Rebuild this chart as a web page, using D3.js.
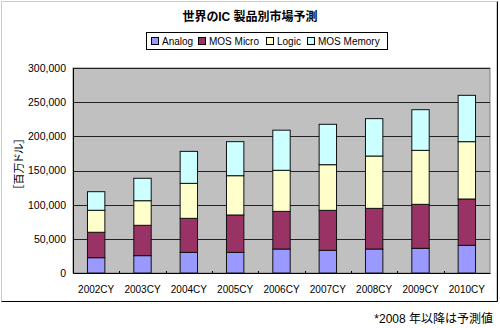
<!DOCTYPE html>
<html>
<head>
<meta charset="utf-8">
<script src="https://cdn.jsdelivr.net/npm/d3@7"></script>
<style>
  html, body { margin: 0; padding: 0; background: #fff; }
  svg { display: block; }
  text { font-family: "Liberation Sans", "Noto Sans CJK JP", sans-serif; fill: #000; font-feature-settings: "palt"; }
</style>
</head>
<body>
<svg id="chart" width="500" height="328"></svg>
<script>
// World IC market by product (million USD), 2008 onward are forecasts
const years = ["2002CY", "2003CY", "2004CY", "2005CY", "2006CY", "2007CY", "2008CY", "2009CY", "2010CY"];
const seriesNames = ["Analog", "MOS Micro", "Logic", "MOS Memory"];
const analog    = [22400, 25400, 30200, 30200, 35100, 33200, 35100, 36100, 40500];
const mosMicro  = [37200, 44400, 49800, 54700, 55100, 58500, 59500, 64400, 67800];
const logic     = [32200, 36000, 51200, 57500, 60100, 66800, 76600, 79000, 83900];
const mosMemory = [27200, 32800, 46800, 49800, 58700, 59100, 54700, 59500, 67800];
const yTicks = [0, 50000, 100000, 150000, 200000, 250000, 300000];
const colors = ["#9999FF", "#993366", "#FFFFCC", "#CCFFFF"];

const svg = d3.select("#chart");

// outer chart frame with shadow edge
svg.append("rect").attr("x", 1.5).attr("y", 1.5).attr("width", 495).attr("height", 300)
  .attr("fill", "#fff").attr("stroke", "#999").attr("stroke-dasharray", "1,1");
svg.append("path").attr("d", "M497.5,1.5V301.5H1.5").attr("fill", "none").attr("stroke", "#000");

const plot = { left: 73, right: 490, top: 68, bottom: 273 };

const x = d3.scaleBand().domain(years).range([plot.left, plot.right]).padding(0);
const y = d3.scaleLinear().domain([0, 300000]).range([plot.bottom, plot.top]);

// plot background
svg.append("rect").attr("x", plot.left).attr("y", plot.top)
  .attr("width", plot.right - plot.left).attr("height", plot.bottom - plot.top)
  .attr("fill", "#C0C0C0").attr("stroke", "#808080");

// horizontal gridlines
svg.append("g").selectAll("line").data(yTicks.filter(d => d > 0)).join("line")
  .attr("x1", plot.left).attr("x2", plot.right)
  .attr("y1", d => Math.round(y(d)) + 0.5).attr("y2", d => Math.round(y(d)) + 0.5)
  .attr("stroke", "#222");

// stacked bars
const rows = years.map((yr, i) => ({ year: yr, Analog: analog[i], "MOS Micro": mosMicro[i], Logic: logic[i], "MOS Memory": mosMemory[i] }));
const stack = d3.stack().keys(seriesNames)(rows);
const barW = x.bandwidth() * 0.375;

svg.append("g").selectAll("g").data(stack).join("g")
  .attr("fill", (d, i) => colors[i])
  .selectAll("rect").data(d => d).join("rect")
  .attr("x", d => x(d.data.year) + (x.bandwidth() - barW) / 2)
  .attr("y", d => y(d[1]))
  .attr("width", barW)
  .attr("height", d => y(d[0]) - y(d[1]))
  .attr("stroke", "#111").attr("stroke-width", 1);

// axes
const yAxis = d3.axisLeft(y).tickValues(yTicks).tickSize(0).tickPadding(7)
  .tickFormat(d3.format(","));
const gy = svg.append("g").attr("transform", `translate(${plot.left},0)`).call(yAxis);
gy.select(".domain").attr("stroke", "#000");
gy.selectAll("text").attr("font-size", 10.5).attr("font-family", null);

const xAxis = d3.axisBottom(x).tickSize(0).tickPadding(13);
const gx = svg.append("g").attr("transform", `translate(0,${plot.bottom})`).call(xAxis);
gx.select(".domain").attr("stroke", "#000");
gx.selectAll("text").attr("font-size", 10).attr("font-family", null);

// small tick marks between categories
svg.append("g").selectAll("line").data(years.slice(1)).join("line")
  .attr("x1", d => Math.round(x(d)) + 0.5).attr("x2", d => Math.round(x(d)) + 0.5)
  .attr("y1", plot.bottom).attr("y2", plot.bottom - 2)
  .attr("stroke", "#000");

// y-axis title
svg.append("text").attr("transform", "translate(23,164) rotate(-90)")
  .attr("text-anchor", "middle").attr("font-size", 11).text("［百万ドル］");

// chart title
svg.append("text").attr("x", 250).attr("y", 21).attr("text-anchor", "middle")
  .attr("font-size", 12).attr("font-weight", "bold").text("世界のIC 製品別市場予測");

// legend
const legend = svg.append("g");
legend.append("rect").attr("x", 146.5).attr("y", 32.5).attr("width", 241).attr("height", 17)
  .attr("fill", "#fff").attr("stroke", "#000");
const legendX = [151, 198, 266, 307];
seriesNames.forEach((name, i) => {
  legend.append("rect").attr("x", legendX[i] + 0.5).attr("y", 37.5).attr("width", 7).attr("height", 7)
    .attr("fill", colors[i]).attr("stroke", "#000");
  legend.append("text").attr("x", legendX[i] + 11).attr("y", 45).attr("font-size", 10).text(name);
});

// footnote
svg.append("text").attr("x", 493).attr("y", 323).attr("text-anchor", "end")
  .attr("font-size", 12).text("*2008 年以降は予測値");
</script>
</body>
</html>
